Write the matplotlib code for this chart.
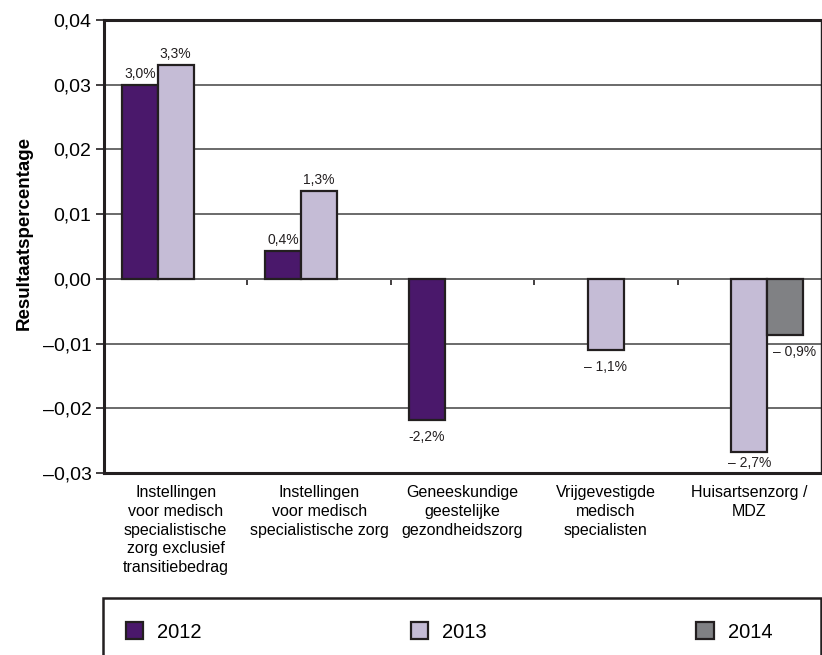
import numpy as np
import matplotlib
matplotlib.use("Agg")
import matplotlib.pyplot as plt
from matplotlib.patches import Rectangle
from matplotlib.ticker import FuncFormatter

categories = [
    "Instellingen\nvoor medisch\nspecialistische\nzorg exclusief\ntransitiebedrag",
    "Instellingen\nvoor medisch\nspecialistische zorg",
    "Geneeskundige\ngeestelijke\ngezondheidszorg",
    "Vrijgevestigde\nmedisch\nspecialisten",
    "Huisartsenzorg /\nMDZ",
]
years = ["2012", "2013", "2014"]
nan = np.nan
vals_2012 = [0.030, 0.0043, -0.0218, nan, nan]
vals_2013 = [0.033, 0.0136, nan, -0.0110, -0.0268]
vals_2014 = [nan, nan, nan, nan, -0.0087]
labels_2012 = ["3,0%", "0,4%", "-2,2%", "", ""]
labels_2013 = ["3,3%", "1,3%", "", "\u2013 1,1%", "\u2013 2,7%"]
labels_2014 = ["", "", "", "", "\u2013 0,9%"]
yticks = [-0.03, -0.02, -0.01, 0.0, 0.01, 0.02, 0.03, 0.04]

colors = ["#4a186b", "#c5bcd6", "#808184"]
edge = "#231f20"

plt.rcParams["font.family"] = ["Liberation Sans", "DejaVu Sans"]

fig = plt.figure(figsize=(8.22, 6.55), dpi=100)
ax = fig.add_axes([104 / 822, 1 - 473 / 655, 717 / 822, 453 / 655])

x = np.arange(len(categories))
width = 0.25
series = [vals_2012, vals_2013, vals_2014]
all_labels = [labels_2012, labels_2013, labels_2014]
handles = []
for i, (vals, labs) in enumerate(zip(series, all_labels)):
    xs = x + (i - 1) * width
    bars = ax.bar(xs, vals, width, color=colors[i], edgecolor=edge,
                  linewidth=1.6, label=years[i], zorder=3)
    handles.append(bars)
    for xi, v, lab in zip(xs, vals, labs):
        if np.isnan(v) or not lab:
            continue
        dx = 7 if i == 2 else 0
        if v >= 0:
            ax.annotate(lab, (xi, v), xytext=(dx, 3), textcoords="offset points",
                        ha="center", va="bottom", fontsize=10, color=edge)
        else:
            # the deepest bar sits close to the frame, so its label hugs the bar
            dy = -2.5 if v < -0.025 else -7
            ax.annotate(lab, (xi, v), xytext=(dx, dy), textcoords="offset points",
                        ha="center", va="top", fontsize=10, color=edge)

ax.set_xlim(-0.5, len(categories) - 0.5)
ax.set_ylim(-0.03, 0.04)
ax.set_yticks(yticks)


def fmt(v, pos):
    if abs(v) < 1e-9:
        return "0,00"
    s = "{:.2f}".format(abs(v)).replace(".", ",")
    return ("\u2013" + s) if v < 0 else s


ax.yaxis.set_major_formatter(FuncFormatter(fmt))
ax.tick_params(axis="y", labelsize=14, length=6, width=1.2, color=edge, pad=3)
ax.set_xticks(x)
ax.set_xticklabels(categories, fontsize=11.5, linespacing=1.3)
ax.tick_params(axis="x", length=0, pad=9)

ax.yaxis.grid(True, color="#6a6a6a", linewidth=1.4)
ax.set_axisbelow(True)

for side in ["left", "bottom", "top"]:
    ax.spines[side].set_linewidth(2.2)
    ax.spines[side].set_color(edge)
ax.spines["right"].set_linewidth(1.0)
ax.spines["right"].set_color(edge)

# zero line with category tick marks
zero = ax.secondary_xaxis(3 / 7)
zero.set_xticks(x[:-1] + 0.5)
zero.set_xticklabels([])
zero.tick_params(direction="out", length=4.5, width=1.2, color=edge)
zero.spines["bottom"].set_color("#333333")
zero.spines["bottom"].set_linewidth(1.4)

ax.set_ylabel("Resultaatspercentage", fontsize=13.5, fontweight="bold")
ax.yaxis.set_label_coords(-0.099, 0.53)

fig.patches.append(Rectangle((103 / 822, -0.05), 718 / 822, 0.05 + 1 - 598 / 655,
                             transform=fig.transFigure, fill=False,
                             edgecolor=edge, linewidth=1.8))
fig.legend(handles=handles, labels=years, loc="center left",
           bbox_to_anchor=(126 / 822, 1 - 632 / 655), ncol=3, frameon=False,
           fontsize=14.5, handlelength=0.85, handleheight=0.85,
           handletextpad=0.7, columnspacing=10.4, borderpad=0, borderaxespad=0)

fig.savefig("out.png", dpi=100)
